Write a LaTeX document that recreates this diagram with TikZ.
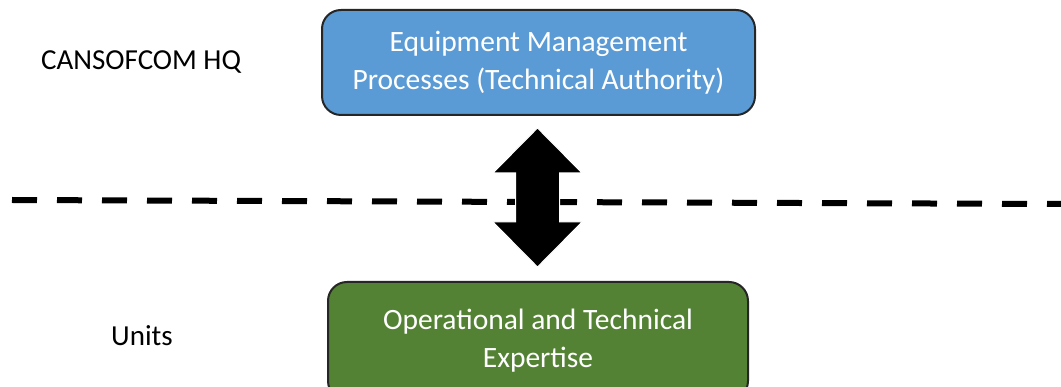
\documentclass[tikz,border=0pt]{standalone}
\usepackage{fontspec}
\setmainfont{Carlito}
\usetikzlibrary{calc}
\begin{document}
\begin{tikzpicture}[x=1pt,y=1pt,
  box/.style={draw=black!85, line width=2pt, rounded corners=19pt, text=white,
    align=center, font=\fontsize{29.5}{38}\selectfont, inner sep=0pt},
  lbl/.style={font=\fontsize{29}{36}\selectfont, text=black, inner sep=0pt},
  divider/.style={line width=6pt, dash pattern=on 25pt off 20pt, black}]
\definecolor{hqblue}{HTML}{5B9BD5}
\definecolor{unitgreen}{HTML}{548235}
\useasboundingbox (0,0) rectangle (1061,-387);

% headquarters and unit boxes
\node[box, fill=hqblue, minimum width=433pt, minimum height=105pt] (hq) at (538.5,-62.5)
  {Equipment Management\\Processes (Technical Authority)};
\node[box, fill=unitgreen, minimum width=420pt, minimum height=118pt] (units) at (538,-341)
  {Operational and Technical\\Expertise};

% level labels
\node[lbl, anchor=west] (hqlabel) at (41,-62) {CANSOFCOM HQ};
\node[lbl, anchor=west] (unitslabel) at (111,-336) {Units};

% dashed boundary between levels
\coordinate (dl) at (12,-200);
\coordinate (dr) at (1061,-204);
\draw[divider] (dl) -- (dr);

% two-way block arrow between the levels
\coordinate (mid) at (537.5,-197.5);
\filldraw[fill=black, draw=white, line width=1pt]
  ($(mid)+(0,69.5)$) -- ++(-44.5,-45) -- ++(22.5,0) -- ++(0,-49) -- ++(-22.5,0)
  -- ++(44.5,-45) -- ++(44.5,45) -- ++(-22.5,0) -- ++(0,49) -- ++(22.5,0) -- cycle;
\end{tikzpicture}
\end{document}
